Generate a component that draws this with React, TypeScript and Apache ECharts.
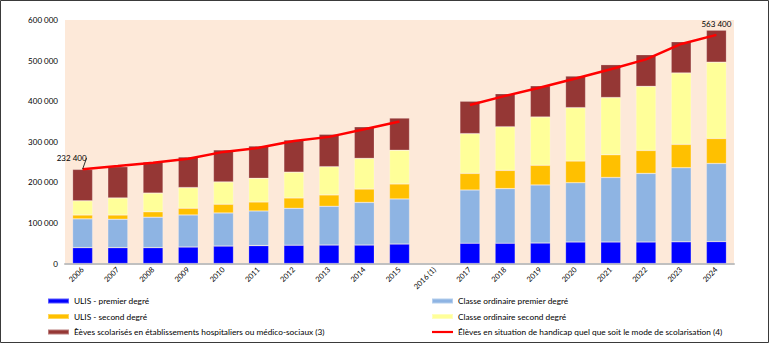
import React, { useEffect, useRef } from "react";
import * as echarts from "echarts";

const categories = ["2006","2007","2008","2009","2010","2011","2012","2013","2014","2015","2016 (1)","2017","2018","2019","2020","2021","2022","2023","2024"];

const ulisPremier = [39000, 39000, 39000, 40600, 43000, 44000, 45000, 45500, 45500, 48000, null, 50000, 50000, 50500, 53000, 53000, 53000, 53500, 54000];
const classePremier = [71000, 70000, 75000, 79000, 81500, 85500, 91000, 95500, 105000, 111000, null, 131000, 134500, 143000, 146000, 159000, 169000, 182500, 192500];
const ulisSecond = [9500, 10500, 13500, 16500, 21500, 22000, 25500, 28000, 33000, 37000, null, 41000, 45000, 48500, 53500, 56000, 56500, 57500, 61500];
const classeSecond = [35000, 42000, 46000, 51000, 55000, 58500, 63500, 69500, 75500, 83000, null, 98000, 107500, 119000, 131500, 141000, 158000, 176000, 188000];
const etablissements = [77500, 77000, 76500, 75500, 79000, 79500, 79500, 80000, 78000, 79500, null, 80000, 81500, 77000, 78000, 81000, 78000, 77000, 79000];
const totalHandicap = [232400, 240000, 248000, 258000, 275000, 285000, 302000, 312000, 331000, 350000, null, 390600, 413000, 433600, 456000, 478600, 503000, 541000, 563400];

const yTicks = { min: 0, max: 600000, interval: 100000 };

const names = {
  ulis1: "ULIS - premier degré",
  co1: "Classe ordinaire premier degré",
  ulis2: "ULIS - second degré",
  co2: "Classe ordinaire second degré",
  etab: "Èèves scolarisés en établissements hospitaliers ou médico-sociaux (3)",
  total: "Élèves en situation de handicap quel que soit le mode de scolarisation (4)",
};

const FONT = "Lato, 'Liberation Sans', sans-serif";

const fmt = (v: number) => {
  if (v === 0) return "0";
  const s = String(Math.round(v));
  return s.replace(/\B(?=(\d{3})+(?!\d))/g, " ");
};

export default function App() {
  const ref = useRef<HTMLDivElement>(null);
  useEffect(() => {
    if (!ref.current) return;
    const chart = echarts.init(ref.current, undefined, { renderer: "svg" });
    const barBorder = { borderColor: "rgba(255,255,255,0.35)", borderWidth: 0.6 };
    const bar = (name: string, data: (number | null)[], color: string) => ({
      name,
      type: "bar",
      stack: "s",
      data,
      barWidth: "57%",
      itemStyle: { color, ...barBorder },
      emphasis: { disabled: true },
    });
    const lastIdx = totalHandicap.length - 1;
    const lineData = totalHandicap.map((v, i) => {
      if (i === 0) {
        return {
          value: v,
          label: { show: true, position: "top", distance: 4, formatter: fmt(v as number) },
          labelLine: { show: true, lineStyle: { color: "#000", width: 0.8 } },
        };
      }
      if (i === lastIdx) {
        return {
          value: v,
          label: { show: true, position: "top", distance: 7, formatter: fmt(v as number) },
          labelLine: { show: false },
        };
      }
      return v;
    });
    const legendBase = {
      orient: "vertical",
      top: 297,
      itemWidth: 21,
      itemHeight: 5,
      itemGap: 7.5,
      padding: 0,
      textStyle: { fontSize: 8.3, color: "#000", fontFamily: FONT },
      selectedMode: false,
    };
    chart.setOption({
      animation: false,
      backgroundColor: "#ffffff",
      textStyle: { fontFamily: FONT },
      graphic: [
        {
          type: "rect",
          shape: { x: 0.5, y: 0.5, width: 768, height: 342 },
          style: { fill: "none", stroke: "#3a3a3a", lineWidth: 1 },
          silent: true,
          z: 100,
        },
      ],
      grid: {
        left: 65,
        right: 35,
        top: 20,
        bottom: 79.5,
        show: true,
        backgroundColor: "#FDE9D9",
        borderWidth: 0,
      },
      xAxis: {
        type: "category",
        data: categories,
        axisLine: { show: true, lineStyle: { color: "#C0C0C0", width: 2 } },
        axisTick: { show: false },
        axisLabel: {
          rotate: 45,
          fontSize: 7.5,
          color: "#000",
          fontFamily: FONT,
          margin: 5,
          interval: 0,
        },
      },
      yAxis: {
        type: "value",
        min: yTicks.min,
        max: yTicks.max,
        interval: yTicks.interval,
        splitLine: { show: false },
        axisLine: { show: false },
        axisTick: { show: false },
        axisLabel: { fontSize: 8, color: "#000", fontFamily: FONT, margin: 7, formatter: fmt },
      },
      legend: [
        {
          ...legendBase,
          left: 47,
          data: [
            { name: names.ulis1, icon: "rect" },
            { name: names.ulis2, icon: "rect" },
            { name: names.etab, icon: "rect" },
          ],
        },
        {
          ...legendBase,
          left: 431,
          data: [
            { name: names.co1, icon: "rect" },
            { name: names.co2, icon: "rect" },
            { name: names.total, icon: "path://M0,0H21V2.2H0Z" },
          ],
        },
      ],
      series: [
        bar(names.ulis1, ulisPremier, "#0000FF"),
        bar(names.co1, classePremier, "#8EB4E3"),
        bar(names.ulis2, ulisSecond, "#FFC000"),
        bar(names.co2, classeSecond, "#FFFF99"),
        bar(names.etab, etablissements, "#953735"),
        {
          name: names.total,
          type: "line",
          data: lineData,
          symbol: "circle",
          symbolSize: 0.1,
          showSymbol: true,
          itemStyle: { color: "#FF0000" },
          lineStyle: { color: "#FF0000", width: 2.5 },
          label: { show: false, fontSize: 8, color: "#000", fontFamily: FONT },
          labelLayout: (p: any) => (p.dataIndex === 0 ? { dx: -11, dy: -3 } : {}),
          emphasis: { disabled: true },
          z: 10,
        },
      ],
    });
    return () => chart.dispose();
  }, []);
  return <div ref={ref} style={{ position: "absolute", left: 0, top: 0, width: 769, height: 343 }} />;
}
